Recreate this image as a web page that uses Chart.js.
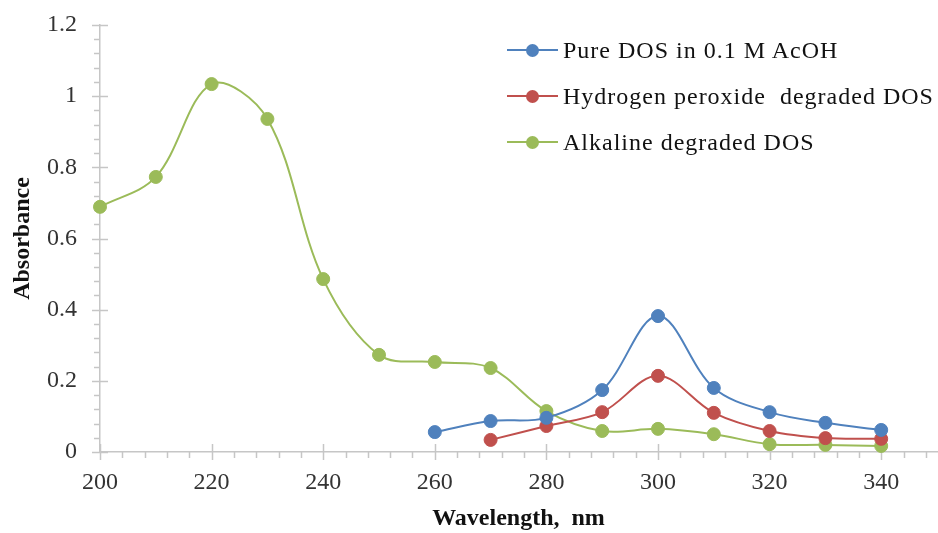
<!DOCTYPE html>
<html lang="en">
<head>
    <meta charset="UTF-8">
    <title>Absorbance vs Wavelength - DOS</title>
    <script src="https://cdn.jsdelivr.net/npm/chart.js"></script>
    <style>
        body {
            margin: 0;
            background-color: #fff;
        }
        .wrap {
            position: relative;
            width: 938px;
            height: 533px;
        }
        #legend {
            position: absolute;
            left: 507px;
            top: 27px;
            font-family: "Liberation Serif", "Times New Roman", serif;
            font-size: 24px;
            letter-spacing: 1px;
            color: #111;
        }
        .item {
            position: relative;
            height: 46px;
            line-height: 46px;
            padding-left: 56px;
            white-space: pre;
        }
        .item .ln {
            position: absolute;
            left: 0;
            top: 22px;
            width: 51px;
            height: 2px;
        }
        .item .dot {
            position: absolute;
            left: 19px;
            top: 17px;
            width: 13px;
            height: 13px;
            border-radius: 50%;
        }
    </style>
</head>
<body>
    <div class="wrap">
        <canvas id="myChart" width="938" height="533"></canvas>
        <div id="legend"></div>
    </div>

    <script>
        // data
        const wavelengths = [200, 210, 220, 230, 240, 250, 260, 270, 280, 290, 300, 310, 320, 330, 340];
        const pureDOS     = [null, null, null, null, null, null, 0.056, 0.087, 0.096, 0.174, 0.382, 0.180, 0.112, 0.082, 0.062];
        const peroxideDOS = [null, null, null, null, null, null, null, 0.034, 0.073, 0.112, 0.214, 0.110, 0.059, 0.039, 0.037];
        const alkalineDOS = [0.689, 0.773, 1.034, 0.936, 0.486, 0.273, 0.253, 0.236, 0.115, 0.059, 0.065, 0.050, 0.022, 0.020, 0.017];

        const seriesNames = ['Pure DOS in 0.1 M AcOH', 'Hydrogen peroxide  degraded DOS', 'Alkaline degraded DOS'];
        const seriesColors = ['#4f81bd', '#c0504d', '#9bbb59'];
        const xTickLabels = [200, 220, 240, 260, 280, 300, 320, 340];
        const yTickLabels = [0, 0.2, 0.4, 0.6, 0.8, 1, 1.2];

        const axisColor = '#c6c6c6';
        const serif = "'Liberation Serif', 'Times New Roman', serif";

        function toPoints(values) {
            return wavelengths.map((w, i) => ({ x: w, y: values[i] })).filter(p => p.y !== null);
        }

        const allSeries = [pureDOS, peroxideDOS, alkalineDOS];
        const datasets = allSeries.map((vals, i) => ({
            label: seriesNames[i],
            data: toPoints(vals),
            borderColor: seriesColors[i],
            backgroundColor: seriesColors[i],
            borderWidth: 2,
            pointRadius: 6.5,
            pointHoverRadius: 6.5,
            pointBorderWidth: 1,
            tension: 0.35,
            clip: 10
        }));

        // major and minor tick marks, excel style
        const tickMarks = {
            id: 'tickMarks',
            beforeDatasetsDraw(chart) {
                const { ctx, chartArea, scales } = chart;
                const x = scales.x, y = scales.y;
                ctx.save();
                ctx.strokeStyle = axisColor;
                ctx.lineWidth = 1.5;
                ctx.beginPath();
                for (let i = 0; i * 4 <= 150; i++) {
                    const px = Math.round(x.getPixelForValue(200 + i * 4)) + 0.5;
                    const major = (i * 4) % 20 === 0;
                    ctx.moveTo(px, chartArea.bottom - (major ? 8 : 0));
                    ctx.lineTo(px, chartArea.bottom + (major ? 8 : 6));
                }
                for (let i = 0; i <= 30; i++) {
                    const py = Math.round(y.getPixelForValue(i * 0.04)) + 0.5;
                    const major = i % 5 === 0;
                    ctx.moveTo(chartArea.left - (major ? 8 : 6), py);
                    ctx.lineTo(chartArea.left + (major ? 8 : 0), py);
                }
                ctx.stroke();
                ctx.restore();
            }
        };

        const ctx = document.getElementById('myChart').getContext('2d');
        const myChart = new Chart(ctx, {
            type: 'line',
            data: { datasets: datasets },
            options: {
                responsive: false,
                animation: false,
                layout: { autoPadding: false, padding: { top: 25, right: 1, left: 0, bottom: 0 } },
                scales: {
                    x: {
                        type: 'linear',
                        min: 200,
                        max: 350,
                        afterBuildTicks: s => { s.ticks = xTickLabels.map(v => ({ value: v })); },
                        afterFit: s => { s.height = 81; s.paddingLeft = 0; s.paddingRight = 0; },
                        grid: { display: false, drawTicks: false },
                        border: { display: true, color: axisColor, width: 1.5 },
                        ticks: {
                            color: '#333',
                            padding: 16,
                            maxRotation: 0,
                            font: { family: serif, size: 24 }
                        },
                        title: {
                            display: true,
                            text: 'Wavelength,  nm',
                            color: '#111',
                            padding: { top: 0, bottom: 0 },
                            font: { family: serif, size: 24, weight: 'bold' }
                        }
                    },
                    y: {
                        min: 0,
                        max: 1.2,
                        afterBuildTicks: s => { s.ticks = yTickLabels.map(v => ({ value: v })); },
                        afterFit: s => { s.width = 100; s.paddingTop = 0; s.paddingBottom = 0; },
                        grid: { display: false, drawTicks: false },
                        border: { display: true, color: axisColor, width: 1.5 },
                        ticks: {
                            color: '#333',
                            padding: 23,
                            callback: v => String(v),
                            font: { family: serif, size: 24 }
                        },
                        title: {
                            display: true,
                            text: 'Absorbance',
                            color: '#111',
                            padding: { top: 8, bottom: 0 },
                            font: { family: serif, size: 24, weight: 'bold' }
                        }
                    }
                },
                plugins: {
                    legend: { display: false },
                    tooltip: { enabled: false }
                }
            },
            plugins: [tickMarks]
        });

        // legend as html, built from the same series lists
        const legendBox = document.getElementById('legend');
        legendBox.innerHTML = seriesNames.map((name, i) =>
            '<div class="item"><span class="ln" style="background:' + seriesColors[i] + '"></span>' +
            '<span class="dot" style="background:' + seriesColors[i] + '"></span>' + name + '</div>'
        ).join('');
    </script>
</body>
</html>
